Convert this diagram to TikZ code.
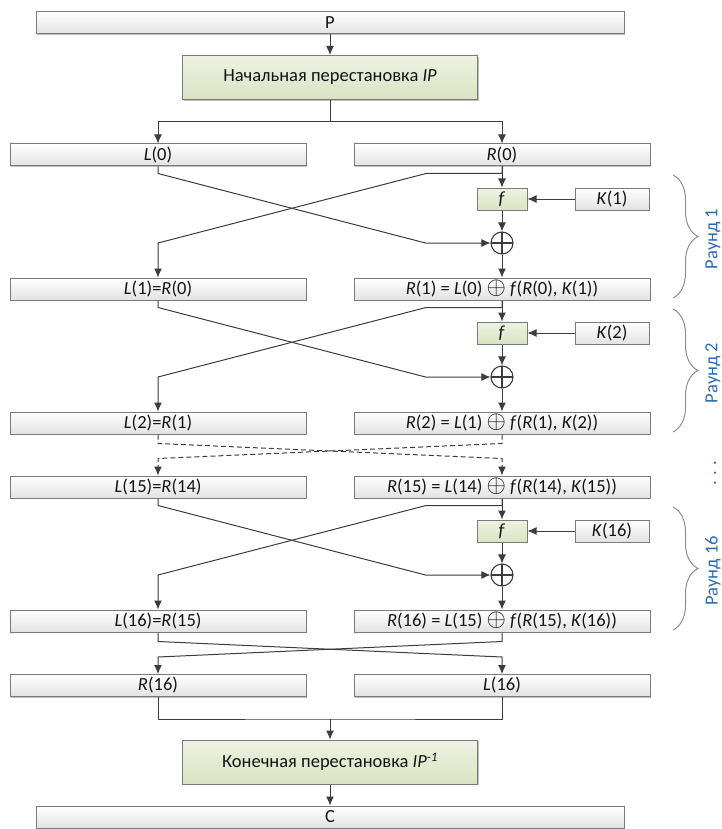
\documentclass[tikz,border=0pt]{standalone}
\usepackage{fontspec}
\setmainfont{Carlito}
\usetikzlibrary{arrows.meta, decorations.pathreplacing, shadows}

\definecolor{boxline}{HTML}{7A7A7A}
\definecolor{boxgray}{HTML}{E2E2E2}
\definecolor{greentop}{HTML}{EEF3E2}
\definecolor{greenbot}{HTML}{D9E3C4}
\definecolor{linec}{HTML}{3C3C3C}
\definecolor{bracec}{HTML}{8C8C8C}
\definecolor{roundblue}{HTML}{2F6BAE}
\definecolor{textc}{HTML}{141414}

\newcommand{\Lx}[1]{\textit{L}(#1)}
\newcommand{\Rx}[1]{\textit{R}(#1)}
\newcommand{\Kx}[1]{\textit{K}(#1)}
\newcommand{\xorsign}{{\fontsize{23}{23}\selectfont$\oplus$}}
\newcommand{\Lnext}[2]{\Lx{#1}=\Rx{#2}}
\newcommand{\Rnext}[2]{\Rx{#1} = \Lx{#2} \xorsign{} \textit{f}(\Rx{#2}, \Kx{#1})}

\tikzset{
  databox/.style={draw=boxline, line width=1pt, top color=white, bottom color=boxgray,
    minimum width=296pt, minimum height=22pt, inner sep=0pt,
    drop shadow={shadow xshift=1.2pt, shadow yshift=-1.2pt, opacity=0.25, fill=black}},
  permbox/.style={databox, top color=greentop, bottom color=greenbot,
    minimum width=295pt, minimum height=44pt},
  fbox/.style={databox, top color=greentop, bottom color=greenbot, minimum width=50pt},
  keybox/.style={databox, minimum width=74pt},
  xorop/.style={circle, draw=linec, line width=1.1pt, minimum size=22pt, inner sep=0pt,
    path picture={\draw[linec, line width=1.1pt]
      (path picture bounding box.north) -- (path picture bounding box.south)
      (path picture bounding box.west) -- (path picture bounding box.east);}},
  conn/.style={draw=linec, line width=1pt},
  roundbrace/.style={draw=bracec, line width=1pt, decorate, decoration={brace, amplitude=25pt}},
}

\begin{document}
\begin{tikzpicture}[x=1pt, y=-1pt, >={Latex[length=9pt, width=8pt]},
    font=\fontsize{18.5}{20}\selectfont, text=textc]
  \useasboundingbox (0,0) rectangle (722,829);

  % input and initial permutation
  \node[databox, minimum width=588pt] (P) at (330,23) {P};
  \node[permbox] (IP) at (330,77.5) {Начальная перестановка \textit{IP}};
  \draw[conn,->] (P.south) -- (IP.north);

  % halves
  \node[databox] (L0) at (158,155) {\Lx{0}};
  \node[databox] (R0) at (502,155) {\Rx{0}};
  \foreach \n/\p/\y in {1/0/289, 2/1/423, 15/14/487, 16/15/621}{
    \node[databox] (L\n) at (158,\y) {\Lnext{\n}{\p}};
    \node[databox] (R\n) at (502,\y) {\Rnext{\n}{\p}};
  }
  \draw[conn,->] (IP.south) -- ++(0,22) -| (L0.north);
  \draw[conn,->] (IP.south) -- ++(0,22) -| (R0.north);

  % rounds
  \foreach \k/\a/\y in {1/0/155, 2/1/289, 16/15/487}{
    \node[fbox] (f\k) at (502,\y+44) {\textit{f}};
    \node[keybox] (K\k) at (612,\y+44) {\Kx{\k}};
    \node[xorop] (x\k) at (502,\y+88) {};
    \draw[conn,->] (R\a.south) -- (f\k.north);
    \draw[conn,->] (K\k.west) -- (f\k.east);
    \draw[conn,->] (f\k.south) -- (x\k.north);
    \draw[conn,->] (x\k.south) -- (R\k.north);
    \draw[conn,->] (L\a.south) -- ++(0,7) -- ([xshift=-65pt]x\k.west) -- (x\k.west);
    \draw[conn,->] (R\a.south) -- ++(0,7) -- ++(-76,0) -- (L\k.north |- x\k.center) -- (L\k.north);
    \draw[roundbrace] (673,\y+20) -- (673,\y+143);
    \node[rotate=90, text=roundblue] (rl\k) at (713,\y+84) {Раунд \k};
  }

  % skipped rounds
  \draw[conn, dash pattern=on 5pt off 3pt, ->] (L2.south) -- ++(0,9) -- ([yshift=17pt]R15.north) -- (R15.north);
  \draw[conn, dash pattern=on 5pt off 3pt, ->] (R2.south) -- ++(0,9) -- ([yshift=17pt]L15.north) -- (L15.north);
  \node[rotate=90, anchor=base, text=roundblue] (dots) at (716,473) {. . .};

  % final swap and permutation
  \node[databox] (Rout) at (158,685.5) {\Rx{16}};
  \node[databox] (Lout) at (502,685.5) {\Lx{16}};
  \draw[conn,->] (L16.south) -- ++(0,9) -- ([yshift=17pt]Lout.north) -- (Lout.north);
  \draw[conn,->] (R16.south) -- ++(0,9) -- ([yshift=17pt]Rout.north) -- (Rout.north);
  \coordinate (join) at (330,719);
  \draw[conn] (Rout.south) |- (join) -| (Lout.south);
  \node[permbox] (IPinv) at (330,762) {Конечная перестановка \textit{IP}\textsuperscript{\textit{-1}}};
  \draw[conn,->] (join) -- (IPinv.north);
  \node[databox, minimum width=588pt] (C) at (330,817) {C};
  \draw[conn,->] (IPinv.south) -- (C.north);
\end{tikzpicture}
\end{document}
